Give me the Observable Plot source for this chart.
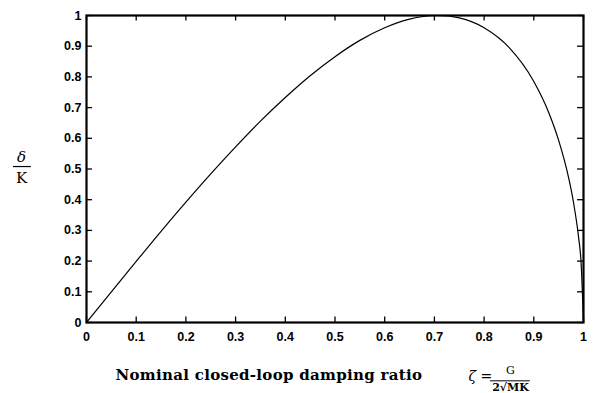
<!DOCTYPE html>
<html>
<head>
<meta charset="utf-8">
<script src="https://cdn.jsdelivr.net/npm/d3@7"></script>
<script src="https://cdn.jsdelivr.net/npm/@observablehq/plot@0.6"></script>
<style>
  html, body { margin: 0; padding: 0; background: #fff; }
  svg { display: block; }
</style>
</head>
<body>
<div id="chart"></div>
<script>
// Damping ratio (x) and normalized response δ/K (y)
const zeta = [0, 0.05, 0.1, 0.15, 0.2, 0.25, 0.3, 0.35, 0.4, 0.45, 0.5, 0.55, 0.6, 0.65, 0.7, 0.707, 0.75, 0.8, 0.85, 0.9, 0.93, 0.95, 0.97, 0.98, 0.99, 0.995, 1.0];
const deltaK = [0, 0.100, 0.199, 0.297, 0.392, 0.484, 0.572, 0.656, 0.733, 0.804, 0.866, 0.919, 0.960, 0.988, 1.0, 1.0, 0.992, 0.960, 0.896, 0.785, 0.684, 0.593, 0.472, 0.390, 0.279, 0.199, 0];
const xTicks = [0, 0.1, 0.2, 0.3, 0.4, 0.5, 0.6, 0.7, 0.8, 0.9, 1];
const yTicks = [0, 0.1, 0.2, 0.3, 0.4, 0.5, 0.6, 0.7, 0.8, 0.9, 1];
const xTitle = "Nominal closed-loop damping ratio";

const data = zeta.map((z, i) => ({z, d: deltaK[i]}));
const fmt = v => v === 0 ? "0" : v === 1 ? "1" : String(v);
const tickFont = "'Liberation Sans', Arial, sans-serif";
const serif = "'DejaVu Serif', 'Liberation Serif', serif";

const chart = Plot.plot({
  width: 593,
  height: 393,
  marginLeft: 86,
  marginRight: 10,
  marginTop: 15,
  marginBottom: 71,
  style: {fontFamily: tickFont, background: "#fff", color: "#000"},
  x: {domain: [0, 1]},
  y: {domain: [0, 1]},
  marks: [
    Plot.axisX(xTicks, {tickSize: 0, tickPadding: 10, tickFormat: fmt, fontSize: 12.5, fontWeight: "bold", label: null}),
    Plot.axisY(yTicks, {tickSize: 0, tickPadding: 5, tickFormat: fmt, fontSize: 12.5, fontWeight: "bold", label: null}),
    // inward ticks on all four sides
    Plot.ruleX(xTicks, {x: d => d, y1: 0, y2: 0.018, stroke: "#000", strokeWidth: 1.3}),
    Plot.ruleX(xTicks, {x: d => d, y1: 0.982, y2: 1, stroke: "#000", strokeWidth: 1.3}),
    Plot.ruleY(yTicks, {y: d => d, x1: 0, x2: 0.012, stroke: "#000", strokeWidth: 1.3}),
    Plot.ruleY(yTicks, {y: d => d, x1: 0.988, x2: 1, stroke: "#000", strokeWidth: 1.3}),
    Plot.line(data, {x: "z", y: "d", stroke: "#000", strokeWidth: 1.2, curve: "monotone-x"}),
    Plot.frame({stroke: "#000", strokeWidth: 2.2}),
    // y label: δ / K
    Plot.text(["δ"], {frameAnchor: "left", dx: -65, dy: -12, textAnchor: "middle", fontSize: 15, fontFamily: serif, fontStyle: "italic", fill: "#000"}),
    Plot.ruleY([0.508], {x1: -0.147, x2: -0.111, stroke: "#000", strokeWidth: 1.2}),
    Plot.text(["K"], {frameAnchor: "left", dx: -65, dy: 9, textAnchor: "middle", fontSize: 15, fontFamily: serif, fill: "#000"}),
    // x label
    Plot.text([xTitle], {frameAnchor: "bottom-left", dx: 29, dy: 57, textAnchor: "start", fontSize: 15, fontWeight: "bold", fontFamily: serif, fill: "#000"}),
    Plot.text(["ζ ="], {frameAnchor: "bottom-left", dx: 382, dy: 58, textAnchor: "start", fontSize: 14, fontFamily: serif, fontStyle: "italic", fill: "#000"}),
    Plot.text(["G"], {frameAnchor: "bottom-left", dx: 424, dy: 51, textAnchor: "middle", fontSize: 11, fontFamily: serif, fill: "#000"}),
    Plot.ruleY([-0.19], {x1: 0.813, x2: 0.893, stroke: "#000", strokeWidth: 1}),
    Plot.text(["2√MK"], {frameAnchor: "bottom-left", dx: 424, dy: 68, textAnchor: "middle", fontSize: 11, fontFamily: serif, fontWeight: "bold", fill: "#000"})
  ]
});
d3.select(chart).selectAll("text").filter(function() { return this.textContent === xTitle; })
  .style("letter-spacing", "0.3px");
document.getElementById("chart").appendChild(chart);
</script>
</body>
</html>
